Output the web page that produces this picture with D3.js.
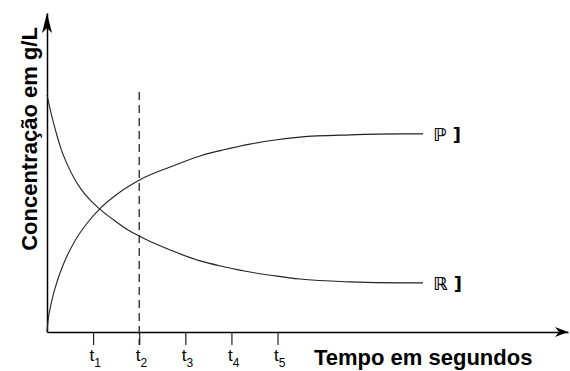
<!DOCTYPE html>
<html>
<head>
<meta charset="utf-8">
<script src="https://cdn.jsdelivr.net/npm/d3@7"></script>
<style>
  body { margin: 0; background: #fff; }
  svg { display: block; }
</style>
</head>
<body>
<svg class="chart"></svg>
<script>
var width = 570,
    height = 371;

// time points (arbitrary units, t1..t5 at 1..5)
var timeR = [0, 0.043, 0.108, 0.195, 0.304, 0.434, 0.586, 0.738, 0.933, 1.171, 1.475, 1.757, 2.039, 2.451, 2.885, 3.319, 3.861, 4.403, 4.946, 5.488, 6.573, 7.657, 8.156];
var concR = [7.43, 7.15, 6.74, 6.27, 5.74, 5.27, 4.83, 4.48, 4.14, 3.82, 3.48, 3.20, 2.98, 2.70, 2.45, 2.23, 2.04, 1.88, 1.76, 1.66, 1.57, 1.54, 1.54];

var timeP = [0, 0.022, 0.043, 0.065, 0.108, 0.174, 0.282, 0.434, 0.607, 0.868, 1.171, 1.518, 2.039, 2.668, 3.319, 3.861, 4.403, 4.946, 5.488, 6.573, 7.657, 8.156];
var concP = [0, 0.34, 0.55, 0.72, 1.01, 1.37, 1.85, 2.38, 2.86, 3.41, 3.90, 4.32, 4.79, 5.17, 5.52, 5.72, 5.89, 6.02, 6.11, 6.18, 6.21, 6.21];

var tickVals = [1, 2, 3, 4, 5];
var tickSubs = ["1", "2", "3", "4", "5"];
var markTime = 2; // dashed line at t2
var markTop = 7.52;

var x = d3.scaleLinear().domain([0, 11.3]).range([47, 568]);
var y = d3.scaleLinear().domain([0, 10]).range([332, 13]);

var chart = d3.select(".chart")
    .attr("width", width)
    .attr("height", height);

// x axis with ticks, labels added by hand (subscripts)
var xAxis = chart.append("g")
    .attr("transform", "translate(0," + y(0) + ")")
    .call(d3.axisBottom(x).tickValues(tickVals).tickSize(13).tickSizeOuter(0).tickFormat(""));
xAxis.select(".domain").attr("stroke", "#000").attr("stroke-width", 1.5);
xAxis.selectAll(".tick line").attr("stroke", "#222").attr("stroke-width", 1.2);

var lbl = xAxis.selectAll(".tick").append("text")
    .attr("fill", "#000")
    .attr("text-anchor", "start")
    .attr("x", -4)
    .attr("y", 29)
    .style("font-family", "Liberation Sans, Arial, sans-serif")
    .style("font-size", "17px");
lbl.append("tspan").text("t");
lbl.append("tspan")
    .attr("dy", 6)
    .style("font-size", "12px")
    .text(function(d, i) { return tickSubs[i]; });

// y axis line
var yAxis = chart.append("g")
    .attr("transform", "translate(" + x(0) + ",0)")
    .call(d3.axisLeft(y).tickValues([]).tickSizeOuter(0));
yAxis.select(".domain").attr("stroke", "#000").attr("stroke-width", 1.5);

// arrow heads
chart.append("path")
    .attr("d", "M" + (x(0) - 5) + "," + (y(10) + 20) + "L" + x(0) + "," + y(10) + "L" + (x(0) + 5) + "," + (y(10) + 20) + "L" + x(0) + "," + (y(10) + 15) + "Z")
    .attr("fill", "#000");
chart.append("path")
    .attr("d", "M" + (x(11.3) - 13) + "," + (y(0) - 5) + "L" + x(11.3) + "," + y(0) + "L" + (x(11.3) - 13) + "," + (y(0) + 5) + "L" + (x(11.3) - 9) + "," + y(0) + "Z")
    .attr("fill", "#000");

// dashed line at t2
chart.append("line")
    .attr("x1", x(markTime)).attr("x2", x(markTime))
    .attr("y1", y(markTop)).attr("y2", y(0) + 13)
    .attr("stroke", "#111")
    .attr("stroke-width", 1.2)
    .attr("stroke-dasharray", "8,5");

var line = d3.line()
    .x(function(d) { return x(d[0]); })
    .y(function(d) { return y(d[1]); })
    .curve(d3.curveMonotoneX);

var dataR = d3.zip(timeR, concR);
var dataP = d3.zip(timeP, concP);

chart.append("path").datum(dataR)
    .attr("d", line).attr("fill", "none").attr("stroke", "#222").attr("stroke-width", 1.1);
chart.append("path").datum(dataP)
    .attr("d", line).attr("fill", "none").attr("stroke", "#222").attr("stroke-width", 1.1);

// curve labels
chart.append("text")
    .attr("x", x(timeP[timeP.length - 1]) + 10)
    .attr("y", y(concP[concP.length - 1]) + 7)
    .attr("fill", "#000")
    .style("font-family", "DejaVu Sans, sans-serif")
    .style("font-weight", "bold")
    .style("font-size", "18px")
    .text("ℙ ]");
chart.append("text")
    .attr("x", x(timeR[timeR.length - 1]) + 10)
    .attr("y", y(concR[concR.length - 1]) + 7)
    .attr("fill", "#000")
    .style("font-family", "DejaVu Sans, sans-serif")
    .style("font-weight", "bold")
    .style("font-size", "18px")
    .text("ℝ ]");

// axis titles
chart.append("text")
    .attr("x", 314)
    .attr("y", 365)
    .style("font-family", "Liberation Sans, Arial, sans-serif")
    .style("font-weight", "bold")
    .style("font-size", "22px")
    .text("Tempo em segundos");

chart.append("text")
    .attr("transform", "translate(37,139) rotate(-90)")
    .attr("text-anchor", "middle")
    .style("font-family", "Liberation Sans, Arial, sans-serif")
    .style("font-weight", "bold")
    .style("font-size", "22px")
    .text("Concentração em g/L");
</script>
</body>
</html>
